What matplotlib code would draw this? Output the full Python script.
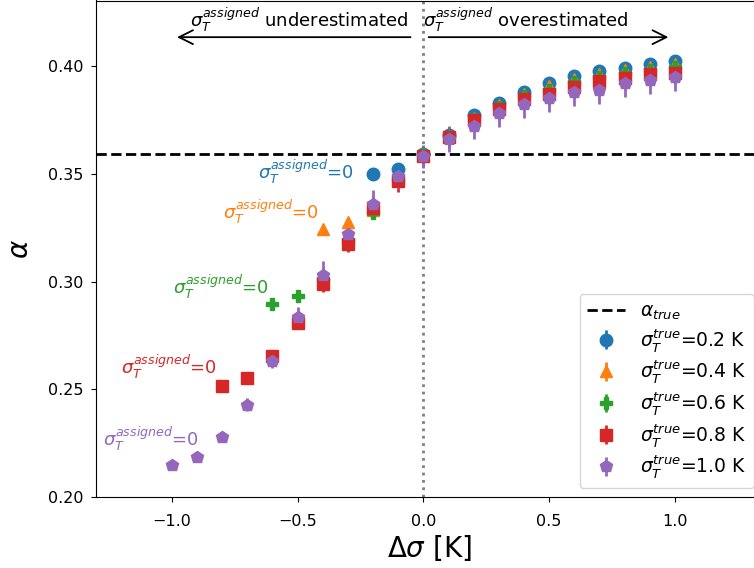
import matplotlib.pyplot as plt

# alpha vs. offset of the assigned temperature spread, one series per true spread
sigma_true = [0.2, 0.4, 0.6, 0.8, 1.0]
d_sigma = [-1.0, -0.9, -0.8, -0.7, -0.6, -0.5, -0.4, -0.3, -0.2, -0.1, 0.0,
           0.1, 0.2, 0.3, 0.4, 0.5, 0.6, 0.7, 0.8, 0.9, 1.0]
alpha_true = 0.359

alpha_02 = [0.350, 0.352, 0.359, 0.368, 0.377, 0.383, 0.388, 0.392, 0.3955,
            0.3975, 0.399, 0.401, 0.4023]
err_02 = [0, 0.0015, 0.002, 0.002, 0.002, 0.002, 0.002, 0.002, 0.002, 0.002,
          0.002, 0.002, 0.002]

alpha_04 = [0.3245, 0.3275, 0.333, 0.3475, 0.359, 0.3675, 0.376, 0.382, 0.387,
            0.3905, 0.394, 0.396, 0.398, 0.3995, 0.401]
err_04 = [0, 0.002, 0.002, 0.002, 0.003, 0.003, 0.003, 0.003, 0.003, 0.003,
          0.003, 0.003, 0.003, 0.003, 0.003]

alpha_06 = [0.2894, 0.2931, 0.301, 0.319, 0.332, 0.347, 0.359, 0.3675, 0.3755,
            0.381, 0.386, 0.389, 0.3925, 0.395, 0.3965, 0.398, 0.3995]
err_06 = [0, 0.002, 0.003, 0.003, 0.003, 0.003, 0.004, 0.004, 0.004, 0.004,
          0.004, 0.004, 0.004, 0.004, 0.004, 0.004, 0.004]

alpha_08 = [0.2516, 0.2553, 0.2654, 0.281, 0.299, 0.3175, 0.334, 0.3465, 0.358,
            0.3668, 0.3747, 0.380, 0.3848, 0.387, 0.390, 0.393, 0.3945, 0.3963,
            0.3968]
err_08 = [0, 0.0015, 0.002, 0.003, 0.004, 0.004, 0.005, 0.005, 0.005, 0.005,
          0.005, 0.005, 0.005, 0.005, 0.005, 0.005, 0.005, 0.005, 0.005]

alpha_10 = [0.215, 0.2185, 0.2278, 0.243, 0.263, 0.2834, 0.3032, 0.322, 0.336,
            0.349, 0.358, 0.366, 0.372, 0.378, 0.3825, 0.385, 0.388, 0.389,
            0.392, 0.3935, 0.395]
err_10 = [0, 0.0015, 0.002, 0.003, 0.003, 0.005, 0.0065, 0.006, 0.0065, 0.006,
          0.0055, 0.006, 0.006, 0.0065, 0.0065, 0.0065, 0.0065, 0.0065, 0.0065,
          0.0065, 0.0065]

series = [alpha_02, alpha_04, alpha_06, alpha_08, alpha_10]
errors = [err_02, err_04, err_06, err_08, err_10]
markers = ['o', '^', 'P', 's', 'p']
colors = ['C0', 'C1', 'C2', 'C3', 'C4']

# where the "assigned = 0" labels sit (right edge, centre)
label_pos = [(-0.275, 0.3507), (-0.413, 0.3323), (-0.612, 0.2977),
             (-0.819, 0.2604), (-0.891, 0.2272)]

fig = plt.figure(figsize=(7.54, 5.68), dpi=100)
# axes runs a little past the right edge of the figure
ax = fig.add_axes([96.3 / 754, 70.7 / 568, 666.7 / 754, 496.8 / 568])

ax.axhline(alpha_true, color='k', ls='--', lw=2, label=r'$\alpha_{true}$')
ax.axvline(0.0, color='grey', ls=':', lw=2)

for s, a, e, m, c, lp in zip(sigma_true, series, errors, markers, colors, label_pos):
    x = d_sigma[len(d_sigma) - len(a):]
    ax.errorbar(x, a, yerr=e, fmt=m, color=c, ms=9, elinewidth=2,
                label=r'$\sigma_T^{true}$=%.1f K' % s)
    ax.text(lp[0], lp[1], r'$\sigma_T^{assigned}$=0', color=c, fontsize=13,
            ha='right', va='center')

# direction arrows at the top
ax.annotate('', xy=(-0.99, 0.4133), xytext=(-0.04, 0.4133),
            arrowprops=dict(arrowstyle='->', lw=1.3, mutation_scale=25))
ax.annotate('', xy=(0.985, 0.4133), xytext=(0.01, 0.4133),
            arrowprops=dict(arrowstyle='->', lw=1.3, mutation_scale=25))
ax.text(-0.06, 0.4212, r'$\sigma_T^{assigned}$ underestimated', fontsize=13,
        ha='right', va='center')
ax.text(0.0, 0.4212, r'$\sigma_T^{assigned}$ overestimated', fontsize=13,
        ha='left', va='center')

ax.set_xlim(-1.3, 1.35)
ax.set_ylim(0.20, 0.4303)
ax.set_xticks([-1.0, -0.5, 0.0, 0.5, 1.0])
ax.set_yticks([0.20, 0.25, 0.30, 0.35, 0.40])
ax.tick_params(labelsize=11.5)
ax.tick_params(axis='x', pad=8.5)
ax.tick_params(axis='y', pad=5.5)
ax.set_xlabel(r'$\Delta\sigma$ [K]', fontsize=20, labelpad=3)
ax.set_ylabel(r'$\alpha$', fontsize=20, labelpad=10)
ax.legend(loc='lower right', fontsize=13.5, labelspacing=0.25)

fig.savefig('out.png')
